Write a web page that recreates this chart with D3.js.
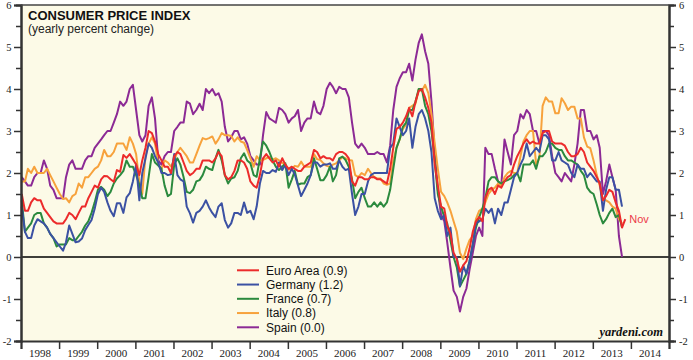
<!DOCTYPE html>
<html><head><meta charset="utf-8">
<script src="https://cdn.jsdelivr.net/npm/d3@7"></script>
<style>body{margin:0;background:#fff}svg{display:block}</style>
</head><body><svg id="c" width="693" height="360"></svg>
<script>
// Monthly yearly percent change, starting Jan 1998
const euroArea = [
1.5,1.1,1.1,1.3,1.4,1.35,1.35,1.15,1.05,0.95,0.85,0.8,
0.8,0.8,0.9,1.05,1.0,0.9,1.05,1.2,1.2,1.4,1.55,1.7,
1.65,1.85,1.93,1.92,1.85,1.79,2.07,2.03,2.43,2.36,2.45,2.33,
2.2,1.95,2.3,2.6,3.0,2.95,2.75,2.45,2.3,2.15,2.15,2.0,
2.4,2.5,2.45,2.25,2.05,1.95,2.0,2.1,2.1,2.3,2.3,2.3,
2.25,2.35,2.5,2.4,1.95,1.85,1.9,2.05,2.3,2.3,2.25,2.1,
1.8,1.7,1.65,1.95,2.35,2.45,2.35,2.25,2.3,2.15,2.35,2.2,
2.1,2.15,2.1,2.05,2.05,2.15,2.2,2.25,2.55,2.5,2.35,2.4,
2.35,2.35,2.3,2.45,2.5,2.5,2.45,2.35,1.8,1.7,1.9,1.9,
1.85,1.85,1.9,1.9,1.85,1.85,1.8,1.75,2.1,2.6,3.05,3.1,
3.2,3.35,3.55,3.35,3.7,3.95,4.0,3.8,3.55,3.2,2.2,1.7,
1.2,1.15,0.75,0.55,0.1,-0.05,-0.35,-0.2,-0.1,0.2,0.6,0.85,
0.95,0.85,1.4,1.6,1.65,1.5,1.7,1.65,1.8,1.9,1.95,2.2,
2.4,2.55,2.7,2.8,2.7,2.75,2.7,2.7,2.95,3.0,3.0,2.75,
2.7,2.7,2.7,2.65,2.5,2.4,2.4,2.45,2.6,2.5,2.25,2.15,
2.05,1.9,1.75,1.35,1.45,1.6,1.55,1.3,1.1,0.7,0.9];
const germany = [
1.2,0.6,0.45,0.45,0.75,0.9,0.85,0.8,0.7,0.55,0.45,0.35,
0.25,0.15,0.35,0.75,0.55,0.35,0.37,0.44,0.64,0.76,0.88,1.15,
1.5,1.65,1.55,1.3,1.1,0.97,1.28,1.28,1.05,1.42,1.52,1.8,
2.2,1.35,2.0,2.35,2.7,2.6,2.4,2.25,2.0,2.0,1.95,1.97,
2.45,1.95,1.85,1.8,1.2,1.04,0.82,1.05,1.1,1.2,1.35,1.18,
1.05,0.95,1.2,1.28,0.88,0.7,0.8,1.05,1.05,1.0,1.3,1.05,
1.1,0.9,1.2,1.75,2.05,2.0,2.0,2.07,2.03,2.25,2.07,2.19,
1.95,2.1,1.97,1.7,1.45,1.6,1.75,1.95,2.25,2.25,2.15,2.2,
2.2,2.23,2.1,2.1,2.3,2.15,2.07,2.1,1.5,1.0,1.2,1.5,
1.5,1.8,1.95,2.0,2.0,2.0,2.0,2.0,2.6,2.7,3.3,3.1,
2.9,3.0,3.3,2.6,3.1,3.4,3.5,3.3,3.0,2.5,1.4,1.1,
0.9,1.0,0.5,0.7,0.0,0.0,-0.7,-0.2,-0.4,-0.1,0.3,0.8,
0.85,0.9,1.15,1.05,1.15,0.8,1.15,1.0,1.3,1.3,1.6,1.9,
2.0,2.2,2.35,2.7,2.4,2.5,2.6,2.5,2.9,2.9,2.8,2.3,
2.3,2.5,2.3,2.25,2.2,2.0,1.9,2.2,2.1,2.1,1.9,2.0,
1.9,1.8,1.8,1.1,1.6,1.9,1.9,1.6,1.6,1.2];
const france = [
1.35,0.6,0.7,0.8,1.0,1.05,1.05,0.8,0.7,0.55,0.45,0.25,
0.3,0.3,0.3,0.45,0.4,0.4,0.5,0.6,0.75,0.85,1.05,1.3,
1.6,1.67,1.6,1.45,1.55,1.75,1.87,1.95,2.05,2.3,2.15,2.15,
1.95,1.72,1.4,1.4,1.9,2.45,2.25,2.18,2.1,1.7,1.45,1.5,
2.2,2.35,2.2,1.9,1.55,1.52,1.6,1.8,1.83,1.95,2.15,2.1,
2.07,2.35,2.55,2.3,1.95,1.75,1.87,1.9,2.05,2.35,2.47,2.3,
2.23,1.95,1.91,2.35,2.75,2.65,2.5,2.3,2.15,2.07,2.15,2.23,
1.65,1.85,2.05,1.72,1.75,1.75,1.9,1.95,2.35,2.1,1.83,1.83,
1.95,2.15,1.8,1.95,2.35,2.39,2.31,2.15,1.85,1.4,1.55,1.65,
1.4,1.2,1.2,1.3,1.2,1.3,1.2,1.3,1.6,2.1,2.6,2.8,
3.1,3.2,3.5,3.5,3.7,4.0,4.0,3.6,3.4,3.0,2.3,1.5,
1.2,0.95,0.8,0.4,0.0,-0.25,-0.7,-0.55,-0.4,-0.1,0.3,0.7,
0.95,1.15,1.4,1.8,1.9,1.9,1.8,1.75,1.8,1.83,1.87,1.95,
2.0,1.8,2.2,2.2,2.2,2.3,2.1,2.4,2.4,2.5,2.7,2.7,
2.6,2.55,2.55,2.4,2.3,2.3,2.25,2.2,2.05,1.95,1.65,1.55,
1.5,1.25,1.0,0.8,0.9,1.05,1.15,0.95,1.0,0.7];
const italy = [
1.8,1.8,2.1,2.0,2.15,2.0,2.0,2.0,2.1,1.95,1.8,1.65,
1.5,1.38,1.4,1.3,1.45,1.5,1.75,1.65,1.9,1.9,2.0,2.1,
2.15,2.3,2.55,2.4,2.4,2.5,2.7,2.7,2.7,2.55,2.85,2.7,
2.45,1.8,1.5,2.4,2.7,2.85,2.7,2.2,2.1,2.3,2.25,2.15,
2.3,2.5,2.6,2.5,2.4,2.25,2.25,2.45,2.65,2.83,2.8,2.83,
2.87,2.7,2.8,2.95,2.9,2.9,2.88,2.75,2.85,2.75,2.72,2.55,
2.35,2.15,2.4,2.3,2.31,2.35,2.38,2.32,2.35,2.3,2.24,2.2,
2.08,2.1,2.17,2.15,2.27,2.15,2.15,2.15,2.45,2.33,2.31,2.23,
2.17,2.15,2.2,2.23,2.3,2.38,2.35,2.31,2.3,1.95,1.9,2.0,
1.95,2.1,2.0,1.9,1.87,1.87,1.75,1.72,1.75,2.3,2.6,2.8,
3.05,3.15,3.55,3.6,3.65,4.0,3.95,4.1,3.9,3.4,2.7,2.1,
1.55,1.45,1.3,1.1,0.85,0.6,0.1,-0.05,0.2,0.4,0.5,0.9,
1.1,1.15,1.3,1.5,1.6,1.65,1.75,1.7,1.9,2.0,2.05,2.0,
2.0,2.4,2.75,2.9,3.0,3.0,2.2,2.35,3.6,3.8,3.7,3.7,
3.42,3.42,3.78,3.66,3.5,3.58,3.58,3.3,3.3,2.85,2.63,2.59,
2.3,1.95,1.7,1.35,1.35,1.3,1.2,1.15,0.9,0.8];
const spain = [
1.9,1.8,1.7,1.7,1.9,2.0,2.0,2.3,2.1,1.7,1.6,1.4,
1.4,1.4,1.9,2.2,2.3,2.1,2.1,2.1,2.3,2.4,2.4,2.6,
2.7,2.8,2.9,3.0,3.0,3.2,3.4,3.7,3.6,3.7,4.0,4.1,
3.5,2.9,2.75,2.9,3.6,3.8,3.3,2.3,2.2,2.4,2.5,2.5,
3.0,3.1,3.2,3.2,3.7,3.65,3.4,3.5,3.65,3.5,4.0,3.9,
4.0,3.85,3.9,3.7,3.1,2.75,2.85,3.0,3.0,2.8,2.85,2.7,
2.4,2.3,2.2,2.2,2.9,3.45,3.3,3.25,3.2,3.55,3.5,3.4,
3.2,3.3,3.35,3.5,3.0,3.2,3.3,3.3,3.7,3.45,3.4,3.6,
4.0,4.15,4.05,3.9,4.05,4.0,4.0,3.8,3.2,2.7,2.6,2.7,
2.6,2.45,2.45,2.45,2.5,2.45,2.45,2.25,2.65,3.5,4.05,4.25,
4.4,4.4,4.6,4.2,4.7,5.1,5.3,4.9,4.6,3.7,2.5,1.6,
1.0,0.85,0.35,-0.25,-0.8,-0.95,-1.3,-0.95,-0.75,-0.3,0.1,0.5,
0.7,0.5,2.6,2.45,2.45,2.1,1.8,1.7,2.8,2.5,2.2,2.9,
3.0,3.4,3.3,3.5,3.4,3.0,3.0,2.7,3.0,3.0,2.9,2.4,
2.0,1.9,1.8,2.0,1.9,1.8,2.2,2.7,3.5,3.5,3.0,3.0,
2.8,2.9,2.6,1.5,1.8,2.2,1.9,1.6,0.5,0.0];

const seriesNames = ["Euro Area","Germany","France","Italy","Spain"];
const latestValues = ["0.9","1.2","0.7","0.8","0.0"];
const seriesColors = ["#ec2b2b","#3b51a3","#2b8a3e","#f7a23c","#8c2a95"];
const yearLabels = [1998,1999,2000,2001,2002,2003,2004,2005,2006,2007,2008,2009,2010,2011,2012,2013,2014];
const yTicks = [-2,-1,0,1,2,3,4,5,6];
const yMinor = [-1.5,-0.5,0.5,1.5,2.5,3.5,4.5,5.5];

const data = [euroArea, germany, france, italy, spain];

const svg = d3.select("#c");
const L = 21, R = 669, T = 5, B = 341;
const x = d3.scaleTime().domain([new Date(1998,0,1), new Date(2015,0,1)]).range([L, R]);
const y = d3.scaleLinear().domain([-2, 6]).range([B, T]);

svg.append("rect").attr("x", L).attr("y", T).attr("width", R - L).attr("height", B - T).attr("fill", "#fcfae7");

// title
svg.append("text").attr("x", 28).attr("y", 19.5).attr("font-family", "Liberation Sans, Arial, sans-serif")
  .attr("font-size", 13).attr("font-weight", "bold").attr("fill", "#111").text("CONSUMER PRICE INDEX");
svg.append("text").attr("x", 28).attr("y", 33).attr("font-family", "Liberation Sans, Arial, sans-serif")
  .attr("font-size", 12).attr("fill", "#222").text("(yearly percent change)");

// zero line
svg.append("line").attr("x1", L).attr("x2", R).attr("y1", y(0)).attr("y2", y(0)).attr("stroke", "#000").attr("stroke-width", 1.3);

// lines
const line = d3.line().x((d, i) => x(new Date(1998, i, 8))).y(d => y(d)).curve(d3.curveLinear);
const order = [4, 3, 2, 1, 0];
order.forEach(k => {
  svg.append("path").datum(data[k]).attr("d", line).attr("fill", "none")
    .attr("stroke", seriesColors[k]).attr("stroke-width", 2).attr("stroke-linejoin", "round");
});

// Nov label
const lastIdx = euroArea.length - 1;
svg.append("text").attr("x", x(new Date(1998, lastIdx, 8)) + 4).attr("y", y(euroArea[lastIdx]) + 4)
  .attr("font-family", "Liberation Sans, Arial, sans-serif").attr("font-size", 11).attr("fill", "#ec3a4a").text("Nov");

// axes
const serif = "Liberation Serif, Times New Roman, serif";
const fmt = d => String(d);
function styleAxis(g) {
  g.selectAll("path").attr("stroke", "#333").attr("stroke-width", 2);
  g.selectAll("line").attr("stroke", "#333").attr("stroke-width", 1.5);
  g.selectAll("text").attr("font-family", serif).attr("font-size", 10.5).attr("fill", "#222");
}
svg.append("g").attr("transform", `translate(${L},0)`)
  .call(d3.axisLeft(y).tickValues(yTicks).tickSize(7).tickPadding(2.5).tickFormat(fmt)).call(styleAxis);
svg.append("g").attr("transform", `translate(${L},0)`)
  .call(d3.axisLeft(y).tickValues(yMinor).tickSize(5).tickFormat("")).call(styleAxis);
svg.append("g").attr("transform", `translate(${R},0)`)
  .call(d3.axisRight(y).tickValues(yTicks).tickSize(7).tickPadding(3).tickFormat(fmt)).call(styleAxis);
svg.append("g").attr("transform", `translate(${R},0)`)
  .call(d3.axisRight(y).tickValues(yMinor).tickSize(5).tickFormat("")).call(styleAxis);

const yearTicks = yearLabels.map(v => new Date(v, 0, 1)).concat([new Date(2015, 0, 1)]);
svg.append("g").attr("transform", `translate(0,${B})`)
  .call(d3.axisBottom(x).tickValues(yearTicks).tickSize(8).tickFormat("")).call(styleAxis);
svg.append("line").attr("x1", L).attr("x2", R).attr("y1", T).attr("y2", T).attr("stroke", "#444").attr("stroke-width", 1.5);

svg.append("g").selectAll("text").data(yearLabels).join("text")
  .attr("x", d => (x(new Date(d, 0, 1)) + x(new Date(d + 1, 0, 1))) / 2)
  .attr("y", 357).attr("text-anchor", "middle").attr("font-family", serif).attr("font-size", 11).attr("fill", "#222")
  .text(d => d);

// legend
const lg = svg.append("g");
seriesNames.forEach((n, i) => {
  const cy = 270.3 + i * 14.25;
  lg.append("line").attr("x1", 237).attr("x2", 259).attr("y1", cy).attr("y2", cy)
    .attr("stroke", seriesColors[i]).attr("stroke-width", 2);
  lg.append("text").attr("x", 266).attr("y", cy + 4.2).attr("font-family", "Liberation Sans, Arial, sans-serif")
    .attr("font-size", 12).attr("fill", "#111").text(`${n} (${latestValues[i]})`);
});

svg.append("text").attr("x", 663).attr("y", 336).attr("text-anchor", "end").attr("font-family", serif)
  .attr("font-size", 12.5).attr("font-weight", "bold").attr("font-style", "italic").attr("fill", "#111").text("yardeni.com");
</script></body></html>
